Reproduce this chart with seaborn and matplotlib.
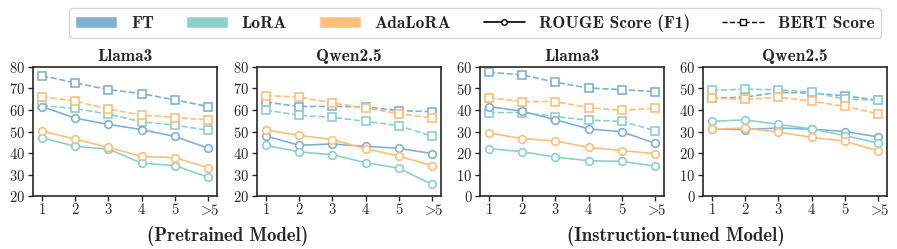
import numpy as np
import pandas as pd
import matplotlib.pyplot as plt
import seaborn as sns
from matplotlib.patches import Patch
from matplotlib.lines import Line2D

sns.set_style("ticks")
plt.rcParams["font.family"] = ["cmr10"]
plt.rcParams["mathtext.fontset"] = "cm"
plt.rcParams["axes.formatter.use_mathtext"] = True
plt.rcParams["axes.unicode_minus"] = False

# ---- data ----
steps = ["1", "2", "3", "4", "5", r"$>\!\!5$"]
methods = ["FT", "LoRA", "AdaLoRA"]
colors = {"FT": "#82B0D2", "LoRA": "#8ECFC9", "AdaLoRA": "#FFBE7A"}

# Pretrained Llama3
pt_llama_rouge = {"FT": [61.6, 56.2, 53.3, 50.9, 47.7, 42.3],
                  "LoRA": [47.1, 43.1, 41.8, 35.3, 34.1, 28.8],
                  "AdaLoRA": [50.2, 46.5, 42.6, 38.4, 37.8, 33.2]}
pt_llama_bert = {"FT": [76.0, 72.6, 69.5, 67.6, 64.7, 61.6],
                 "LoRA": [62.1, 60.7, 58.1, 54.5, 53.0, 50.5],
                 "AdaLoRA": [66.1, 64.2, 60.4, 57.7, 56.5, 55.4]}
# Pretrained Qwen2.5
pt_qwen_rouge = {"FT": [47.9, 43.6, 44.2, 43.1, 42.2, 39.7],
                 "LoRA": [43.6, 40.5, 39.2, 35.5, 32.9, 25.4],
                 "AdaLoRA": [50.7, 48.2, 46.2, 42.0, 38.6, 34.1]}
pt_qwen_bert = {"FT": [63.7, 61.6, 61.7, 61.4, 59.7, 59.2],
                "LoRA": [60.0, 57.5, 56.6, 54.7, 52.7, 47.8],
                "AdaLoRA": [66.7, 66.0, 63.3, 60.9, 58.3, 56.3]}
# Instruction-tuned Llama3
it_llama_rouge = {"FT": [41.6, 39.4, 35.5, 31.2, 29.9, 24.5],
                  "LoRA": [22.0, 20.6, 18.1, 16.4, 16.1, 13.9],
                  "AdaLoRA": [29.3, 26.7, 25.6, 22.6, 21.1, 19.7]}
it_llama_bert = {"FT": [57.5, 56.4, 52.9, 50.2, 49.5, 48.5],
                 "LoRA": [38.8, 38.8, 36.9, 35.3, 34.7, 30.4],
                 "AdaLoRA": [45.7, 43.9, 43.9, 41.1, 39.8, 40.9]}
# Instruction-tuned Qwen2.5
it_qwen_rouge = {"FT": [31.1, 30.9, 31.6, 31.1, 30.0, 27.5],
                 "LoRA": [34.7, 35.4, 33.3, 31.2, 28.1, 24.6],
                 "AdaLoRA": [31.1, 31.6, 29.7, 27.3, 25.5, 21.0]}
it_qwen_bert = {"FT": [45.5, 46.0, 48.2, 47.9, 46.6, 44.6],
                "LoRA": [49.1, 49.7, 49.4, 48.3, 45.1, 44.5],
                "AdaLoRA": [45.5, 44.9, 45.9, 44.1, 41.7, 38.2]}

panels = [("Llama3", pt_llama_rouge, pt_llama_bert, (20, 80)),
          ("Qwen2.5", pt_qwen_rouge, pt_qwen_bert, (20, 80)),
          ("Llama3", it_llama_rouge, it_llama_bert, (0, 60)),
          ("Qwen2.5", it_qwen_rouge, it_qwen_bert, (0, 60))]

fig = plt.figure(figsize=(8.97, 2.49), dpi=100)
lefts = [33, 257, 480, 703]
axes = [fig.add_axes([l / 897, 1 - 196 / 249, 184 / 897, 129 / 249]) for l in lefts]

for ax, (title, rouge, bert, ylim) in zip(axes, panels):
    rows = []
    for m in methods:
        for i, s in enumerate(steps):
            rows.append({"x": i, "score": bert[m][i], "method": m, "metric": "BERT"})
            rows.append({"x": i, "score": rouge[m][i], "method": m, "metric": "ROUGE"})
    df = pd.DataFrame(rows)
    for metric, ls, mk in [("BERT", "--", "s"), ("ROUGE", "-", "o")]:
        for m in methods:
            sub = df[(df.metric == metric) & (df.method == m)]
            sns.lineplot(data=sub, x="x", y="score", ax=ax, color=colors[m],
                         linestyle=ls, marker=mk, markersize=5.5,
                         markerfacecolor="white", markeredgecolor=colors[m],
                         markeredgewidth=1.2, linewidth=1.2, legend=False)
    ax.set_xlim(-0.27, 5.27)
    ax.set_ylim(*ylim)
    ax.set_yticks(np.arange(ylim[0], ylim[1] + 1, 10))
    ax.set_xticks(range(len(steps)))
    ax.set_xticklabels(steps)
    ax.set_xlabel("")
    ax.set_ylabel("")
    ax.tick_params(labelsize=10.5, length=3.5, width=1, pad=2)
    ax.set_title(title, family="cmb10", fontsize=12.5, pad=4)
    for sp in ax.spines.values():
        sp.set_linewidth(1.2)

fig.text(228 / 897, 1 - 236 / 249, "(Pretrained Model)", family="cmb10",
         fontsize=13.5, ha="center", va="center")
fig.text(676 / 897, 1 - 236 / 249, "(Instruction-tuned Model)", family="cmb10",
         fontsize=13.5, ha="center", va="center")

handles = [Patch(facecolor=colors[m], edgecolor="white") for m in methods]
handles += [Line2D([], [], color="black", ls="-", marker="o", markersize=4,
                   markerfacecolor="white", lw=1.2),
            Line2D([], [], color="black", ls="--", marker="s", markersize=4,
                   markerfacecolor="white", lw=1.0)]
labels = methods + ["ROUGE Score (F1)", "BERT Score"]
fig.legend(handles, labels, loc="center", bbox_to_anchor=(475 / 897, 1 - 23 / 249),
           ncol=5, frameon=True, edgecolor="#cccccc", fancybox=True,
           prop={"family": "cmb10", "size": 12.5}, handlelength=2.4,
           columnspacing=1.85, borderpad=0.35, handletextpad=0.8)

plt.savefig("out.png", dpi=100)
